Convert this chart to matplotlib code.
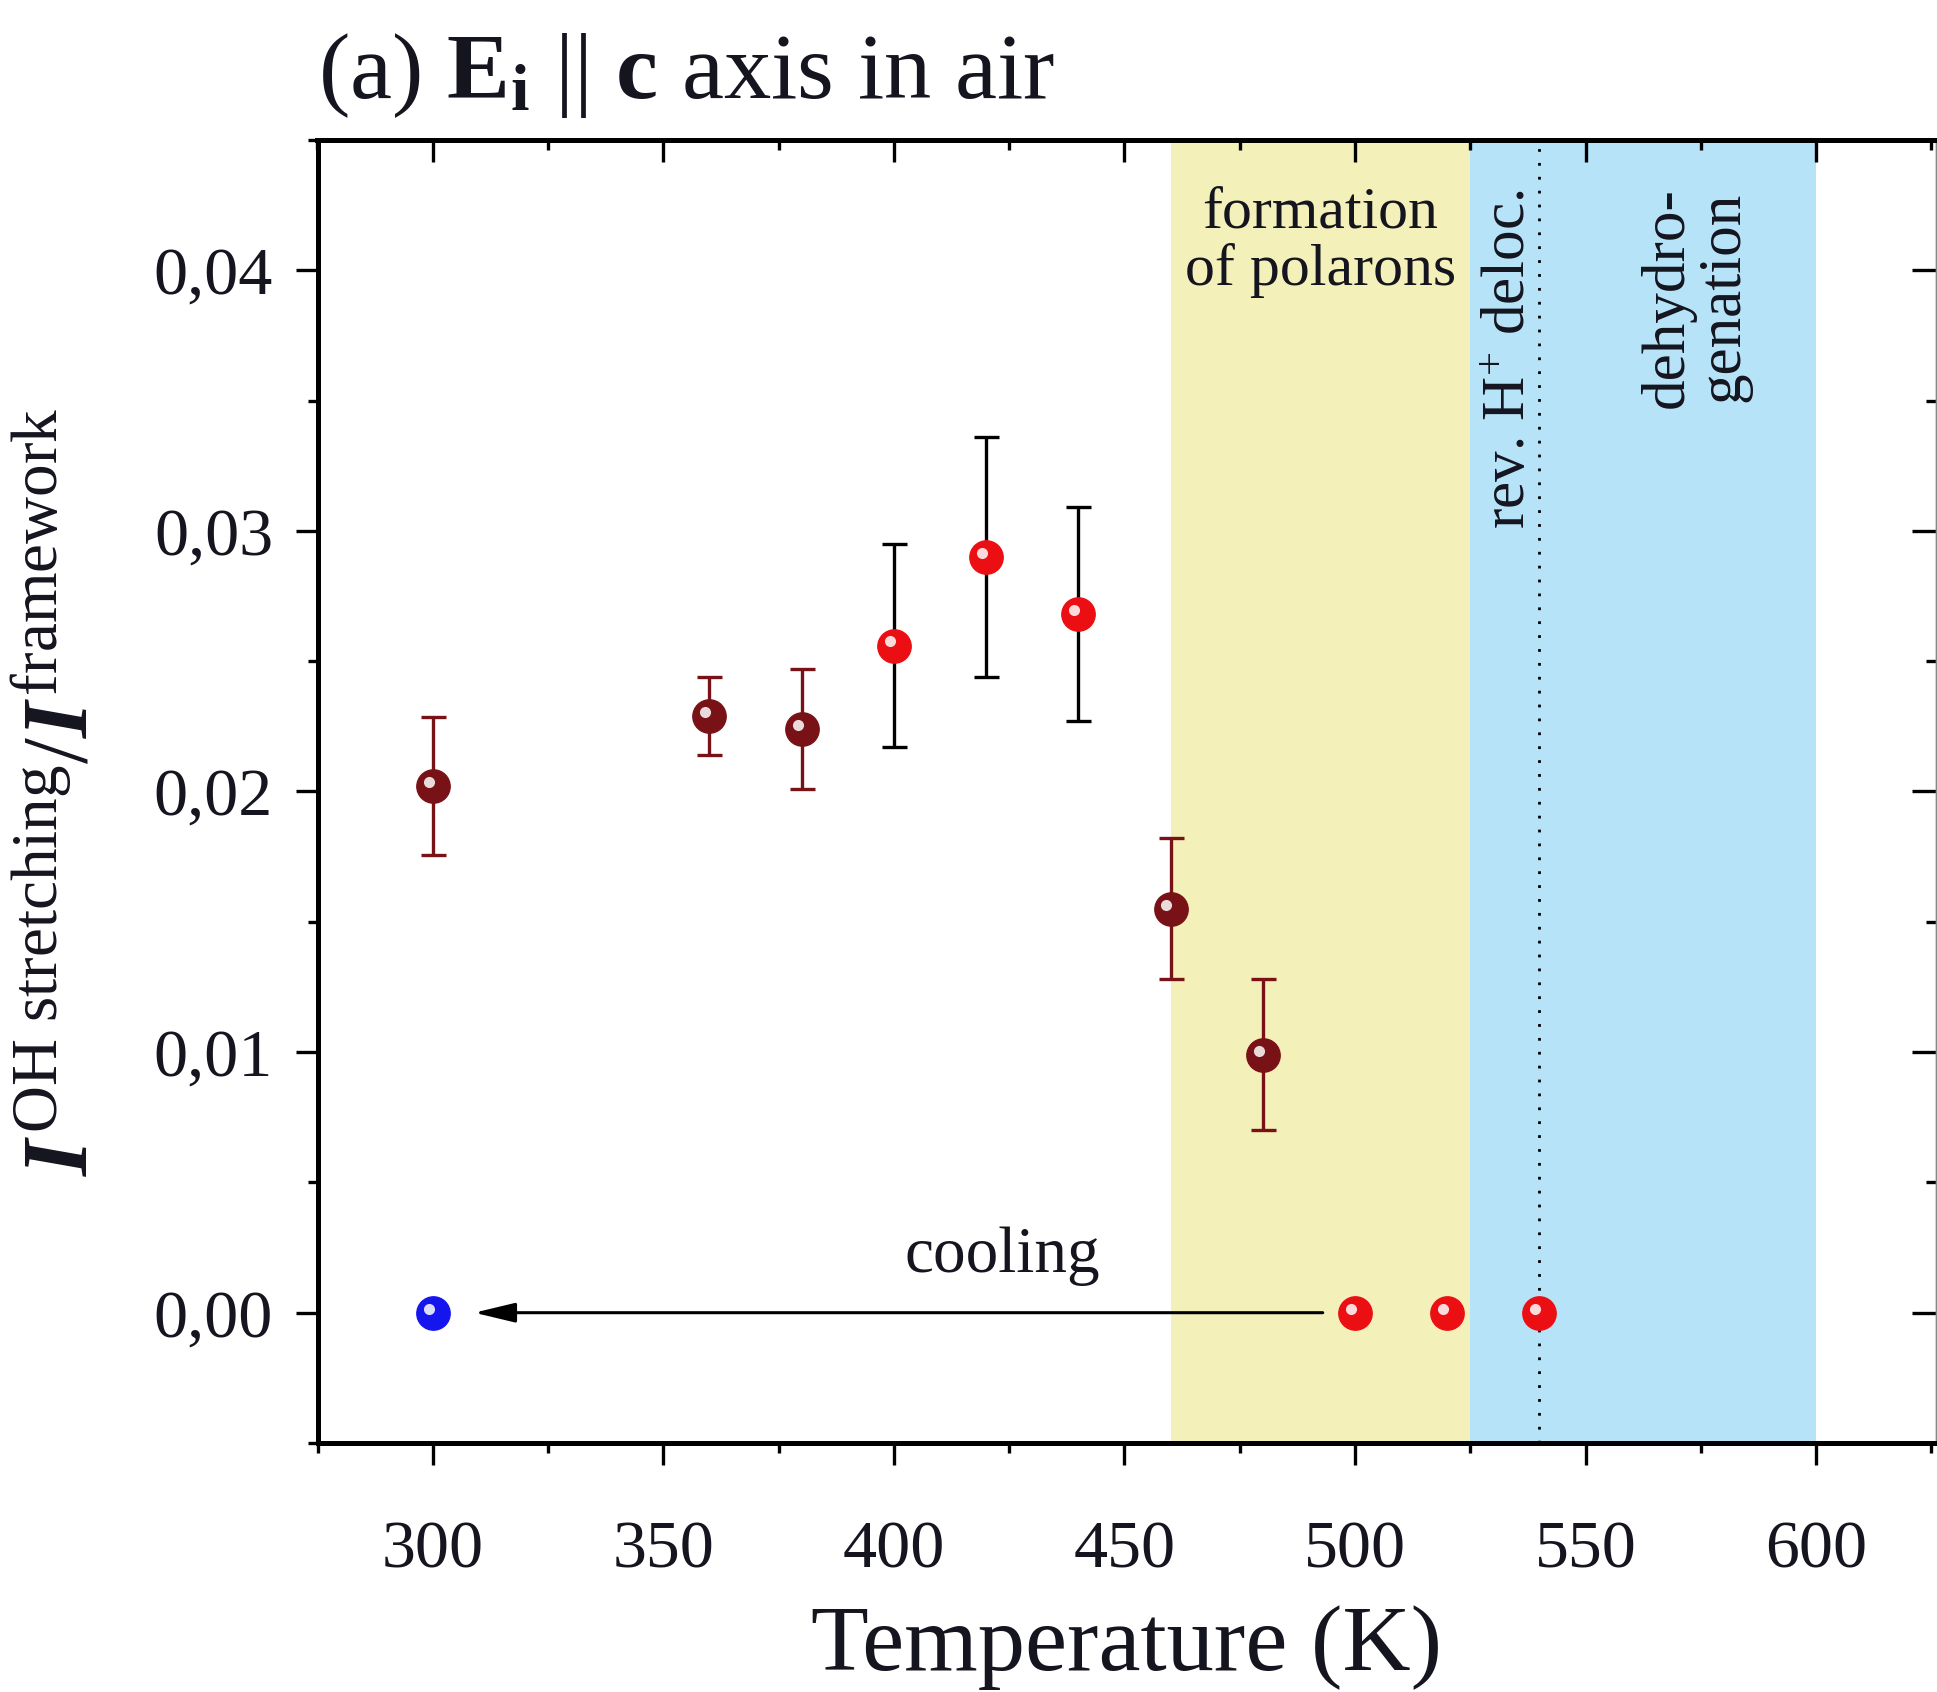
import matplotlib
matplotlib.use("Agg")
import matplotlib.pyplot as plt
from matplotlib.ticker import MultipleLocator, FixedLocator, FixedFormatter
from matplotlib import transforms

# ---------------- data ----------------
T_dark = [300, 360, 380, 460, 480]
I_dark = [0.0202, 0.0229, 0.0224, 0.0155, 0.0099]
err_dark = [0.00265, 0.0015, 0.0023, 0.0027, 0.0029]

T_red = [400, 420, 440]
I_red = [0.0256, 0.0290, 0.0268]
err_red = [0.0039, 0.0046, 0.0041]

T_zero_red = [500, 520, 540]
I_zero_red = [0.0, 0.0, 0.0]

T_cool = [300]
I_cool = [0.0]

polaron_span = [460, 525]
dehydro_span = [525, 600]
deloc_line = 540

xticks = [300, 350, 400, 450, 500, 550, 600]
xtick_labels = ['300', '350', '400', '450', '500', '550', '600']
yticks = [0.00, 0.01, 0.02, 0.03, 0.04]
ytick_labels = ['0,00', '0,01', '0,02', '0,03', '0,04']

# ---------------- style ----------------
plt.rcParams['font.family'] = ['Liberation Serif', 'DejaVu Serif']
plt.rcParams['mathtext.fontset'] = 'custom'
plt.rcParams['mathtext.rm'] = 'Liberation Serif'
plt.rcParams['mathtext.it'] = 'Liberation Serif:italic:bold'
plt.rcParams['mathtext.bf'] = 'Liberation Serif:bold'

TXT = '#15151f'
DARK = '#781216'
RED = '#EB0F14'
BLUE = '#1515EE'
YEL = '#F3F0B9'
SKY = '#B6E3F8'

fig = plt.figure(figsize=(19.37, 16.92), dpi=100)
ax = fig.add_axes([317.5 / 1937, 249 / 1692, (1936 - 317.5) / 1937, 1303 / 1692])
ax.set_xlim(275, 626)
ax.set_ylim(-0.005, 0.045)

# shaded regions
ax.axvspan(*polaron_span, color=YEL, lw=0, zorder=0)
ax.axvspan(*dehydro_span, color=SKY, lw=0, zorder=0)
ax.axvline(deloc_line, color='black', ls=(0, (1, 4)), lw=2.0, zorder=1)

# data with error bars
ax.errorbar(T_dark, I_dark, yerr=err_dark, fmt='o', color=DARK, ecolor=DARK,
            ms=24, elinewidth=2.4, capsize=9, capthick=2.4, zorder=4)
ax.errorbar(T_red, I_red, yerr=err_red, fmt='o', color=RED, ecolor='black',
            ms=24, elinewidth=2.4, capsize=9, capthick=2.4, zorder=4)
ax.plot(T_zero_red, I_zero_red, 'o', color=RED, ms=24, zorder=4)
ax.plot(T_cool, I_cool, 'o', color=BLUE, ms=24, zorder=4)

# glossy highlights
hl = transforms.offset_copy(ax.transData, fig=fig, x=-3, y=3, units='points')
for xs, ys in [(T_dark, I_dark), (T_red, I_red), (T_zero_red, I_zero_red), (T_cool, I_cool)]:
    ax.plot(xs, ys, 'o', color='white', ms=8, mec='none', alpha=0.85,
            transform=hl, zorder=5)

# cooling arrow
ax.annotate('', xy=(309, 0.0), xytext=(493, 0.0),
            arrowprops=dict(arrowstyle='-|>,head_length=1.25,head_width=0.3',
                            mutation_scale=20, lw=2.2, color='black',
                            shrinkA=0, shrinkB=0), zorder=3)
ax.text(423.5, 0.00158, 'cooling', fontsize=47, ha='center', va='baseline', color=TXT)

# region labels
ax.text(492.5, 0.0432, 'formation\nof polarons', fontsize=43, ha='center', va='top',
        linespacing=1.05, color=TXT)
ax.text(533.6, 0.0431, r'rev. H$^{+}$ deloc.', fontsize=44, rotation=90,
        ha='center', va='top', color=TXT)
ax.text(573.8, 0.0432, 'dehydro-\ngenation', fontsize=44, rotation=90,
        ha='center', va='top', multialignment='center', linespacing=1.0, color=TXT)

# axes styling
for side in ['left', 'bottom', 'top']:
    ax.spines[side].set_linewidth(3.6)
ax.spines['right'].set_linewidth(1.0)
ax.spines['right'].set_color('#888888')

ax.xaxis.set_major_locator(FixedLocator(xticks))
ax.xaxis.set_major_formatter(FixedFormatter(xtick_labels))
ax.xaxis.set_minor_locator(MultipleLocator(25))
ax.yaxis.set_major_locator(FixedLocator(yticks))
ax.yaxis.set_major_formatter(FixedFormatter(ytick_labels))
ax.yaxis.set_minor_locator(MultipleLocator(0.005))

ax.tick_params(axis='both', which='major', direction='out', length=16, width=2.4,
               labelsize=49, colors='black', labelcolor=TXT,
               top=False, right=False)
ax.tick_params(axis='x', which='major', pad=40)
ax.tick_params(axis='y', which='major', pad=16)
ax.tick_params(axis='both', which='minor', direction='out', length=7, width=2.4,
               top=False, right=False)

secx = ax.secondary_xaxis('top')
secx.xaxis.set_major_locator(FixedLocator(xticks))
secx.xaxis.set_minor_locator(MultipleLocator(25))
secx.tick_params(which='major', direction='in', length=16, width=2.4, labeltop=False)
secx.tick_params(which='minor', direction='in', length=7, width=2.4)
secx.spines['top'].set_linewidth(3.6)

secy = ax.secondary_yaxis('right')
secy.yaxis.set_major_locator(FixedLocator(yticks))
secy.yaxis.set_minor_locator(MultipleLocator(0.005))
secy.tick_params(which='major', direction='in', length=17, width=2.4, labelright=False)
secy.tick_params(which='minor', direction='in', length=7, width=2.4)
secy.spines['right'].set_linewidth(1.0)
secy.spines['right'].set_color('#888888')

ax.set_xlabel('Temperature (K)', fontsize=68, color=TXT)
ax.xaxis.set_label_coords(0.5, -0.124)
ax.set_ylabel(r'$I^{\mathrm{OH\ stretching}}/I^{\mathrm{framework}}$', fontsize=67, color=TXT)
ax.yaxis.set_label_coords(-0.13, 0.5)

ax.set_title(r'(a) $\mathbf{E}_{\mathbf{i}}$ || $\mathbf{c}$ axis in air', loc='left',
             fontsize=68, pad=30, color=TXT)

fig.savefig('out.png', dpi=100)
